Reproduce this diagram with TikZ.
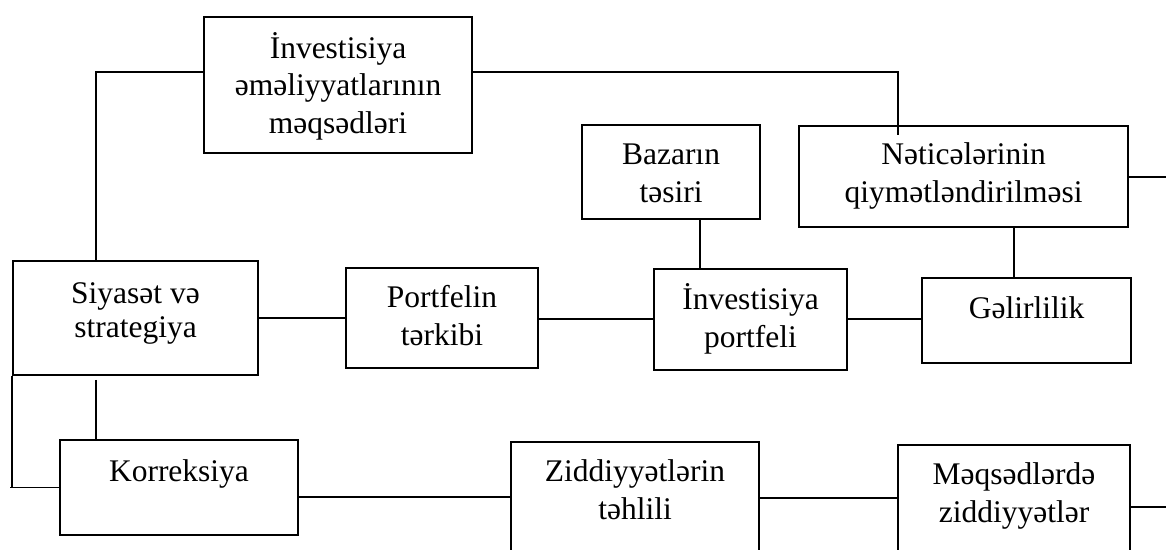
\documentclass[tikz,border=0pt]{standalone}
\usepackage{fontspec}
\setmainfont{Liberation Serif}
\begin{document}
\begin{tikzpicture}[x=1pt,y=-1pt,
  box/.style={draw, line width=1.6pt, inner sep=0pt, rectangle},
  txt/.style={anchor=base, align=center, inner sep=0pt, font=\fontsize{31.5}{37.5}\selectfont},
  conn/.style={line width=1.6pt}]
\clip (0,0) rectangle (1166,549);
% boxes
\node[box, minimum width=268pt, minimum height=136pt] (A) at (338,85) {};
\node[box, minimum width=245pt, minimum height=114pt] (sv) at (135.5,318) {};
\node[box, minimum width=238pt, minimum height=95pt] (kor) at (179,487.5) {};
\node[box, minimum width=192pt, minimum height=100pt] (pt) at (442,318) {};
\node[box, minimum width=178pt, minimum height=94pt] (baz) at (671,172) {};
\node[box, minimum width=193pt, minimum height=101pt] (inv) at (750.5,319.5) {};
\node[box, minimum width=329pt, minimum height=101pt] (net) at (963.5,176.5) {};
\node[box, minimum width=209pt, minimum height=85pt] (gel) at (1026.5,320.5) {};
\node[box, minimum width=248pt, minimum height=118pt] (zid) at (635,501) {};
\node[box, minimum width=232pt, minimum height=115pt] (mq) at (1014,502.5) {};
% texts (anchor base = baseline of the last line)
\node[txt] (tA) at (338,133) {İnvestisiya\\əməliyyatlarının\\məqsədləri};
\node[txt, font=\fontsize{31.5}{34.5}\selectfont] (tsv) at (135.5,337.5) {Siyasət və\\strategiya};
\node[txt] (tkor) at (179,481) {Korreksiya};
\node[txt] (tpt) at (442,345) {Portfelin\\tərkibi};
\node[txt] (tbaz) at (671,202) {Bazarın\\təsiri};
\node[txt] (tinv) at (750.5,347) {İnvestisiya\\portfeli};
\node[txt] (tnet) at (963.5,202) {Nəticələrinin\\qiymətləndirilməsi};
\node[txt] (tgel) at (1026.5,318) {Gəlirlilik};
\node[txt] (tzid) at (635,519) {Ziddiyyətlərin\\təhlili};
\node[txt] (tmq) at (1014,522) {Məqsədlərdə\\ziddiyyətlər};
% free-end coordinates
\coordinate (tl) at (96,72);
\coordinate (tr) at (898,72);
\coordinate (lk) at (10,487.5);
\coordinate (rn) at (1166,177);
\coordinate (rm) at (1166,507);
% connectors
\draw[conn] (A.west |- tl) -- (tl) -- (sv.north -| tl);
\draw[conn] (A.east |- tr) -- (tr) -- ([yshift=-10pt]net.north -| tr);
\draw[conn] (sv.east) -- (pt.west |- sv.east);
\draw[conn] (pt.east |- 0,319) -- (inv.west |- 0,319);
\draw[conn] (inv.east |- 0,319) -- (gel.west |- 0,319);
\draw[conn] (baz.south -| 700,0) -- (inv.north -| 700,0);
\draw[conn] (net.south -| 1014,0) -- (gel.north -| 1014,0);
\draw[conn] (net.east |- rn) -- (rn);
\draw[conn] ([yshift=-4pt]sv.south -| tl) -- (kor.north -| tl);
\draw[conn] (sv.south west) -- (sv.south west |- kor.west);
\draw[conn] (lk) -- (kor.west);
\draw[conn] (kor.east |- 0,497) -- (zid.west |- 0,497);
\draw[conn] (zid.east |- 0,498) -- (mq.west |- 0,498);
\draw[conn] (mq.east |- rm) -- (rm);
\end{tikzpicture}
\end{document}
